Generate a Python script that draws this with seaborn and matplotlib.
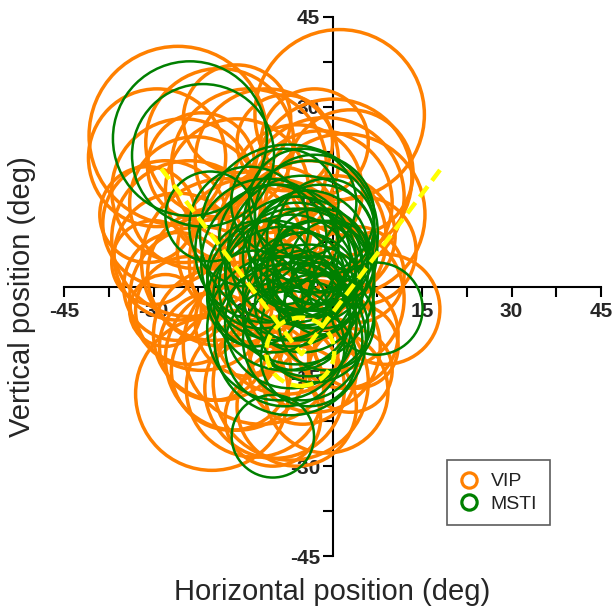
import matplotlib
matplotlib.use("Agg")
import matplotlib.pyplot as plt
from matplotlib.patches import Circle
from matplotlib.lines import Line2D
import seaborn as sns
import pandas as pd

# ---------------- data (degrees) ----------------
vip_x = [1.2, -25.9, -29.4, -18.9, -11.0, 0.1, -1.2, 2.0, 3.0, 0.5, -28.0, -26.0, -23.0, -16.0,
         -20.0, -14.0, -24.0, -19.0, -20.2, -13.0, -9.7, -1.0, 8.8, -8.0, -4.0, -9.0, -6.0, 4.0,
         2.0, -14.0, -10.0, -28.0, -16.0, -22.0, -3.0, -12.0, 3.0, -17.0, -5.0, -8.0, 5.0, -31.0,
         -24.0, -22.0, -26.0, -18.0, -12.0, -16.0, -20.0, -6.0, -3.0, -25.0, -10.0, -4.0, 0.0,
         4.0, -14.0, -30.0, -7.0, -2.0]
vip_y = [28.7, 25.2, 21.5, 24.0, 21.0, 18.1, 15.0, 12.0, 19.0, 8.5, 10.5, 5.0, 14.0, 16.0,
         2.0, 6.0, -4.0, -8.0, -17.9, -17.0, -17.0, -17.5, -3.8, -6.0, 2.0, 10.0, 16.0, 2.0,
         -8.0, -6.0, -22.0, -4.0, 28.0, 20.0, 24.0, 0.0, -14.0, -14.0, -14.0, 24.0, 6.0, 12.0,
         8.0, -2.0, 0.0, 4.0, -10.0, -12.0, -10.0, -20.0, -10.0, 16.0, 4.0, 8.0, -2.0,
         -10.0, 20.0, 4.0, -16.0, 14.0]
vip_r = [14.2, 14.9, 11.5, 12.4, 12.0, 13.2, 13.2, 13.5, 10.5, 10.0, 10.5, 10.6, 11.0, 12.0,
         11.0, 12.0, 9.0, 11.0, 12.8, 11.5, 11.7, 10.3, 9.2, 12.0, 11.0, 10.0, 11.0, 8.0,
         9.0, 9.0, 8.0, 6.0, 9.0, 9.0, 9.0, 8.0, 7.0, 10.0, 9.0, 8.0, 9.0, 8.0,
         13.0, 12.0, 9.0, 14.0, 13.0, 12.0, 9.0, 10.0, 11.0, 12.0, 14.0, 13.0, 12.0,
         7.0, 13.0, 7.0, 13.0, 12.0]

msti_x = [-23.9, -21.7, -20.5, -10.0, 7.4, -7.3, -7.1, -5.0, -4.0, -9.0, -6.0, -4.0, -2.0, -3.0,
          -5.0, -3.0, -2.0, -1.0, -6.0, -8.0, -4.0, -1.0, -10.0, -12.0, -8.0, -2.0, 0.0, -7.0,
          -4.0, -5.0, -13.0, -14.0, -1.0, -6.0,
          -6.0, -7.0, -5.0, -8.0, -4.0, -6.0, -3.0, -5.0, -4.0, -2.0, -7.0, -3.0, -9.0, -2.0,
          -10.0, -11.0, -3.0, -5.0, -8.0, -1.0]
msti_y = [24.7, 21.9, 11.7, -25.0, -3.7, 8.8, -8.8, 6.0, 10.0, 4.0, 0.0, -4.0, 2.0, 4.0,
          1.0, 0.0, -2.0, 2.0, -5.0, -10.0, -12.0, -6.0, 8.0, 2.0, 14.0, 8.0, 4.0, -3.0,
          4.0, -9.0, -2.0, 10.0, 10.0, 8.0,
          3.0, 1.0, -1.0, -2.0, 6.0, 5.0, 3.0, 2.0, -1.0, 0.0, -6.0, -7.0, -7.0, 5.0,
          0.0, 6.0, 12.0, 14.0, 2.0, -1.0]
msti_r = [12.9, 11.9, 7.5, 6.9, 7.7, 14.9, 12.7, 12.5, 11.0, 13.0, 13.0, 11.0, 9.0, 7.0,
          5.0, 4.0, 6.0, 3.0, 9.0, 10.0, 8.0, 8.0, 9.0, 9.0, 9.0, 9.0, 7.0, 6.0,
          9.0, 10.0, 8.0, 10.0, 8.0, 7.0,
          12.0, 11.0, 10.0, 12.0, 10.0, 9.0, 8.0, 7.0, 6.0, 5.0, 11.0, 9.0, 12.0, 8.0,
          11.0, 12.0, 10.0, 9.0, 5.0, 3.0]

fit_x = [-28.7, -5.2, 18.2]
fit_y = [19.7, -11.3, 19.7]
fit_cx, fit_cy, fit_r = -5.4, -10.9, 5.7

ticks = [-45, -30, -15, 0, 15, 30, 45]
xtick_labels = ["-45", "-30", "-15", "", "15", "30", "45"]
ytick_labels = ["-45", "-30", "-15", "0", "15", "30", "45"]

ORANGE = "#FF8000"
GREEN = "#008000"
YELLOW = "#FFFF00"

# ---------------- figure ----------------
sns.set_style("ticks")
plt.rcParams["font.family"] = ["Liberation Sans", "DejaVu Sans"]

fig = plt.figure(figsize=(6.14, 6.08), dpi=100)
ax = fig.add_axes([64 / 614, 1 - 556 / 608, 537 / 614, 539 / 608])

for x, y, r in zip(vip_x, vip_y, vip_r):
    ax.add_patch(Circle((x, y), r, fill=False, ec=ORANGE, lw=2.5, zorder=3))
for x, y, r in zip(msti_x, msti_y, msti_r):
    ax.add_patch(Circle((x, y), r, fill=False, ec=GREEN, lw=1.8, zorder=4))

fit_df = pd.DataFrame({"x": fit_x, "y": fit_y})
sns.lineplot(data=fit_df, x="x", y="y", sort=False, ax=ax, color=YELLOW, lw=3.2,
             dashes=False, zorder=5, estimator=None)
ax.lines[-1].set_linestyle((0, (3, 1.6)))
ax.add_patch(Circle((fit_cx, fit_cy), fit_r, fill=False, ec=YELLOW, lw=3.2,
                    ls=(0, (3, 1.6)), zorder=5))

ax.set_xlim(-45, 45)
ax.set_ylim(-45, 45)
for s in ["top", "right"]:
    ax.spines[s].set_visible(False)
ax.spines["left"].set_position(("data", 0))
ax.spines["bottom"].set_position(("data", 0))
for s in ["left", "bottom"]:
    ax.spines[s].set_linewidth(1.5)
    ax.spines[s].set_color("black")
    ax.spines[s].set_zorder(2)
ax.set_axisbelow(True)

ax.set_xticks(ticks)
ax.set_yticks(ticks)
ax.set_xticklabels(xtick_labels, fontsize=15, fontweight="bold")
ax.set_yticklabels(ytick_labels, fontsize=15, fontweight="bold")
ax.set_xticks([-37.5, -22.5, -7.5, 7.5, 22.5, 37.5], minor=True)
ax.set_yticks([-37.5, -22.5, -7.5, 7.5, 22.5, 37.5], minor=True)
ax.tick_params(which="both", direction="out", length=7, width=1.5, color="black")
ax.tick_params(axis="x", pad=4)
ax.tick_params(axis="y", pad=2)
ax.set_xlabel("")
ax.set_ylabel("")

fig.text(332 / 614, 1 - 592 / 608, "Horizontal position (deg)", ha="center", va="center",
         fontsize=21)
fig.text(22 / 614, 1 - 297 / 608, "Vertical position (deg)", ha="center", va="center",
         rotation=90, fontsize=21)

handles = [Line2D([], [], ls="none", marker="o", ms=11, mfc="none", mec=ORANGE, mew=2.3),
           Line2D([], [], ls="none", marker="o", ms=11, mfc="none", mec=GREEN, mew=2.3)]
leg = ax.legend(handles, ["VIP", "MSTI"], loc="upper left", bbox_to_anchor=(0.713, 0.178),
                borderaxespad=0, frameon=True, fancybox=False, fontsize=14,
                handletextpad=0.6, handlelength=1.0, borderpad=0.65, labelspacing=0.25)
leg.get_frame().set_edgecolor("#333333")
leg.get_frame().set_linewidth(1.2)
for t in leg.get_texts():
    t.set_color("#222222")
leg.set_zorder(10)

fig.savefig("out.png", dpi=100)
